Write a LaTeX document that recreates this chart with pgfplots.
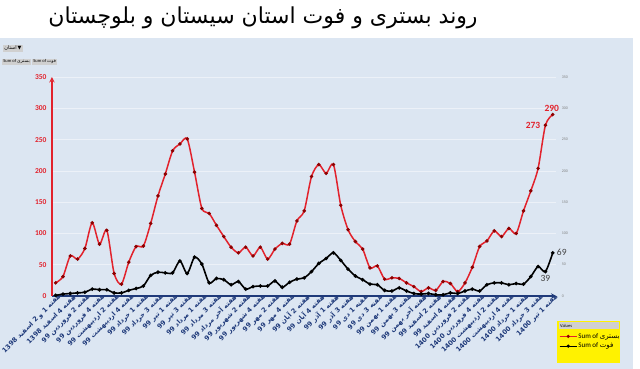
\documentclass[border=0pt]{standalone}
\usepackage{fontspec}
\usepackage{pgfplots}
\pgfplotsset{compat=1.18}
\setmainfont{Carlito}
\newfontfamily\farsi[Script=Arabic]{DejaVu Sans}
\newfontfamily\dejavu{DejaVu Sans}
\TeXXeTstate=1
\definecolor{bgblue}{HTML}{DCE6F2}
\definecolor{serred}{HTML}{E2222C}
\definecolor{navy}{HTML}{1F3A7A}
\definecolor{btngray}{HTML}{D0D0D0}
\definecolor{lblgray}{HTML}{404040}

\pgfplotstableread{
i hosp death
0 21 1
1 31 3
2 64 4
3 59 5
4 76 6
5 117 11
6 83 10
7 105 10
8 36 5
9 19 5
10 54 9
11 79 12
12 80 16
13 116 33
14 160 38
15 195 37
16 232 37
17 243 56
18 251 36
19 198 62
20 140 51
21 132 21
22 113 28
23 95 26
24 78 18
25 69 23
26 78 11
27 64 15
28 78 16
29 59 16
30 75 24
31 84 14
32 83 22
33 120 27
34 136 29
35 191 39
36 210 52
37 196 60
38 210 69
39 145 57
40 106 43
41 87 32
42 75 26
43 45 19
44 48 18
45 27 9
46 29 8
47 28 13
48 21 8
49 15 4
50 7 3
51 13 4
52 9 2
53 23 2
54 20 5
55 7 4
56 21 8
57 46 11
58 79 8
59 88 18
60 104 21
61 95 21
62 108 18
63 100 20
64 136 19
65 168 31
66 204 47
67 273 39
68 290 69
}\datatable

\begin{document}
\begin{tikzpicture}[x=1pt,y=1pt]
\useasboundingbox (0,0) rectangle (640,369);
\fill[white] (0,0) rectangle (640,369);
\fill[bgblue] (0,0) rectangle (633,331);
\node[font=\farsi\fontsize{22}{26}\selectfont, inner sep=0pt] at (263,351) {\beginR روند بستری و فوت استان سیستان و بلوچستان\endR};
% pivot buttons
\node[fill=btngray, font=\fontsize{5}{6}\selectfont, inner sep=1.2pt, anchor=west] at (3,320.5) {{\farsi\beginR استان\endR}\,{\dejavu ▼}};
\node[fill=btngray, font=\fontsize{4.5}{5}\selectfont, inner sep=1.2pt, anchor=west] at (2,307) {Sum of {\farsi\beginR بستری\endR}};
\node[fill=btngray, font=\fontsize{4.5}{5}\selectfont, inner sep=1.2pt, anchor=west] at (32,307) {Sum of {\farsi\beginR فوت\endR}};
% legend frame
\fill[yellow] (557,6) rectangle (620,48);
\fill[btngray] (558.5,39.5) rectangle (618.5,47);
\node[font=\fontsize{4.5}{5}\selectfont, anchor=west, inner sep=0pt] at (560,43.2) {Values};

\begin{axis}[
  at={(52pt,73pt)}, anchor=south west, scale only axis,
  width=504.4pt, height=219pt,
  xmin=-0.5, xmax=68.5, ymin=0, ymax=350,
  axis x line*=bottom, axis y line*=left,
  x axis line style={navy, line width=1.4pt, -stealth},
  y axis line style={serred, line width=1.4pt, -stealth},
  ymajorgrids, grid style={white!45!bgblue, line width=0.7pt},
  ytick={0,50,...,350},
  /pgf/number format/assume math mode=true,
  yticklabel style={serred, font=\bfseries\fontsize{7.5}{9}\selectfont, xshift=-2pt},
  xtick={0,2,...,68},
  xticklabels={
   {\beginR هفته 1 و 2 اسفند 1398\endR},
   {\beginR هفته 4 اسفند 1398\endR},
   {\beginR هفته 2 فروردین 99\endR},
   {\beginR هفته 4 فروردین 99\endR},
   {\beginR هفته 2 اردیبهشت 99\endR},
   {\beginR هفته 4 اردیبهشت 99\endR},
   {\beginR هفته 1 خرداد 99\endR},
   {\beginR هفته 3 خرداد 99\endR},
   {\beginR هفته 1 تیر 99\endR},
   {\beginR هفته 3 تیر 99\endR},
   {\beginR هفته 1 مرداد 99\endR},
   {\beginR هفته 3 مرداد 99\endR},
   {\beginR هفته آخر مرداد 99\endR},
   {\beginR هفته 2 شهریور 99\endR},
   {\beginR هفته 4 شهریور 99\endR},
   {\beginR هفته 2 مهر 99\endR},
   {\beginR هفته 4 مهر 99\endR},
   {\beginR هفته 2 آبان 99\endR},
   {\beginR هفته 4 آبان 99\endR},
   {\beginR هفته 1 آذر 99\endR},
   {\beginR هفته 3 آذر 99\endR},
   {\beginR هفته 1 دی 99\endR},
   {\beginR هفته 3 دی 99\endR},
   {\beginR هفته 1 بهمن 99\endR},
   {\beginR هفته 3 بهمن 99\endR},
   {\beginR هفته آخر بهمن 99\endR},
   {\beginR هفته 2 اسفند 99\endR},
   {\beginR هفته 4 اسفند 99\endR},
   {\beginR هفته 2 فروردین 1400\endR},
   {\beginR هفته 4 فروردین 1400\endR},
   {\beginR هفته 2 اردیبهشت 1400\endR},
   {\beginR هفته 4 اردیبهشت 1400\endR},
   {\beginR هفته 1 خرداد 1400\endR},
   {\beginR هفته 3 خرداد 1400\endR},
   {\beginR هفته 1 تیر 1400\endR}},
  xticklabel style={navy, rotate=45, anchor=east, font=\farsi\bfseries\fontsize{6.6}{8}\selectfont, inner sep=1pt, xshift=4pt, yshift=-3pt},
  major tick length=0pt,
  legend style={at={(1.003,-0.16)}, anchor=north west, fill=none, draw=none,
    font=\fontsize{7}{8}\selectfont, row sep=1.5pt, inner sep=1pt,
    nodes={inner sep=1pt}},
  legend image post style={line width=1.2pt},
  legend cell align=left,
  clip=false,
]
\addplot[serred, line width=1.5pt, smooth, tension=0.45, mark=*, mark size=0.9pt,
  mark options={fill=red!55!black, draw=red!55!black}]
  table[x=i, y=hosp] {\datatable};
\addlegendentry{Sum of {\farsi\beginR بستری\endR}}
\addplot[black, line width=1.6pt, smooth, tension=0.45, mark=*, mark size=0.9pt,
  mark options={fill=black}]
  table[x=i, y=death] {\datatable};
\addlegendentry{Sum of {\farsi\beginR فوت\endR}}
\node[serred, font=\bfseries\fontsize{9.5}{10}\selectfont, anchor=south, inner sep=1pt] at (axis cs:68,290) [yshift=2pt, xshift=-1pt] {290};
\node[serred, font=\bfseries\fontsize{9.5}{10}\selectfont, anchor=east, inner sep=1pt] at (axis cs:67,273) [xshift=-4pt] {273};
\node[lblgray, font=\fontsize{9.5}{10}\selectfont, anchor=west, inner sep=1pt] at (axis cs:68,69) [xshift=3pt] {69};
\node[lblgray, font=\fontsize{9.5}{10}\selectfont, anchor=north, inner sep=1pt] at (axis cs:67,39) [yshift=-3pt] {39};
\end{axis}
\begin{axis}[
  at={(52pt,73pt)}, anchor=south west, scale only axis,
  width=504.4pt, height=219pt,
  xmin=-0.5, xmax=68.5, ymin=0, ymax=350,
  axis x line=none, axis y line*=right,
  y axis line style={draw=none},
  ytick={0,50,...,350}, major tick length=0pt,
  /pgf/number format/assume math mode=true,
  yticklabel style={gray, font=\fontsize{4}{5}\selectfont, xshift=2pt},
]
\addplot[draw=none] coordinates {(0,0)};
\end{axis}
\end{tikzpicture}
\end{document}
